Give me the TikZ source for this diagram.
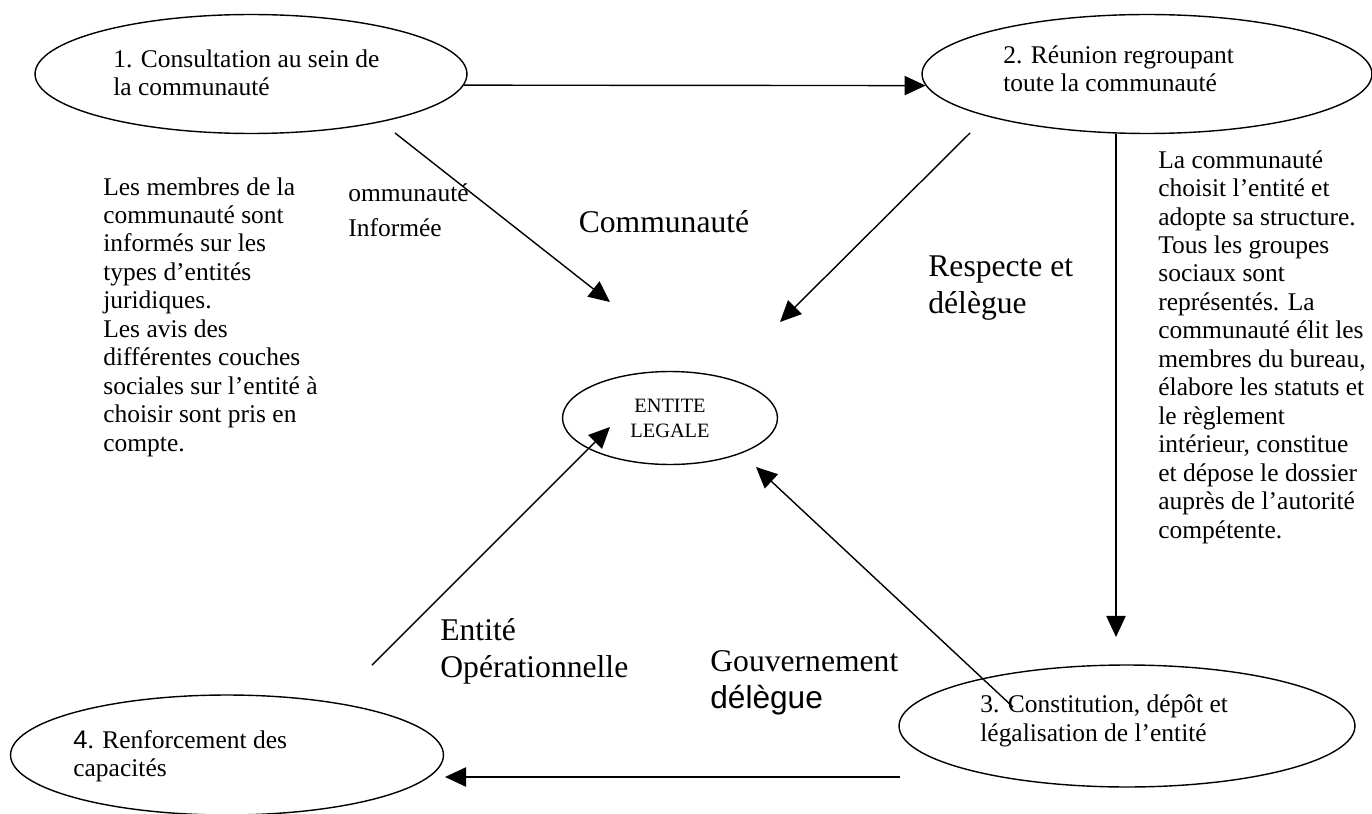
\documentclass[tikz,border=0pt]{standalone}
\usepackage{fontspec}
\setmainfont{Liberation Serif}
\newfontfamily\arial{Liberation Sans}
\usetikzlibrary{shapes.geometric,arrows.meta}

\newcommand{\corps}{\fontsize{14.5}{16.2}\selectfont}
\newcommand{\grand}{\fontsize{18}{21}\selectfont}

\begin{document}
\begin{tikzpicture}[x=0.02cm,y=-0.02cm,
  bulle/.style={draw,ellipse,line width=0.8pt,inner sep=0pt},
  texte/.style={anchor=west,align=left,inner sep=0pt,font=\corps},
  etiq/.style={anchor=west,align=left,inner sep=0pt,font=\grand},
  fleche/.style={line width=0.8pt,-{Triangle[length=12pt,width=11pt]}}]
\useasboundingbox (0,0) rectangle (1372,814);
% les quatre etapes et l'entite
\node[bulle,minimum width=8.64cm,minimum height=2.38cm] (etape1) at (251,74) {};
\node[bulle,minimum width=9.0cm,minimum height=2.38cm] (etape2) at (1147,74) {};
\node[bulle,minimum width=9.12cm,minimum height=2.44cm] (etape3) at (1127,726) {};
\node[bulle,minimum width=8.66cm,minimum height=2.4cm] (etape4) at (227,755) {};
\node[bulle,minimum width=4.3cm,minimum height=1.86cm,align=center,
      font=\fontsize{11.6}{14.2}\selectfont] (entite) at (670,418) {ENTITE\\LEGALE};
\node[texte] (t1) at (113,73) {1. Consultation au sein de\\la communauté};
\node[texte] (t2) at (1003,69) {2. Réunion regroupant\\toute la communauté};
\node[texte] (t3) at (980,721) {3. Constitution, dépôt et\\légalisation de l’entité};
\node[texte] (t4) at (73,756) {{\arial 4}. Renforcement des\\capacités};
% textes explicatifs
\node[texte] (gauche) at (103,317) {Les membres de la\\communauté sont\\informés sur les\\types d’entités\\juridiques.\\Les avis des\\différentes couches\\sociales sur l’entité à\\choisir sont pris en\\compte.};
\node[texte] (droite) at (1158,347) {La communauté\\choisit l’entité et\\adopte sa structure.\\Tous les groupes\\sociaux sont\\représentés. La\\communauté élit les\\membres du bureau,\\élabore les statuts et\\le règlement\\intérieur, constitue\\et dépose le dossier\\auprès de l’autorité\\compétente.};
\node[texte] (informee) at (348,210) {ommunauté\\[3.7pt]Informée};
\node[etiq,anchor=center] (commu) at (664,222) {Communauté};
\node[etiq] (respecte) at (928,288) {Respecte et\\délègue};
\node[etiq] (operat) at (440,651) {Entité\\Opérationnelle};
\node[etiq] (gouv) at (710,683) {Gouvernement\\{\arial délègue}};
% fleches
\coordinate (d1) at (395,133); \coordinate (f1) at (610,302);
\coordinate (d2) at (970,133); \coordinate (f2) at (780,322);
\coordinate (f3) at (1116,637);
\coordinate (d4) at (900,777); \coordinate (f4) at (445,777);
\coordinate (d5) at (1013,707); \coordinate (f5) at (756,467);
\coordinate (d6) at (372,665); \coordinate (f6) at (610,427);
\draw[fleche] (etape1.-3) -- (etape2.183);
\draw[fleche] (d1) -- (f1);
\draw[fleche] (d2) -- (f2);
\draw[fleche] (etape2.south -| f3) -- (f3);
\draw[fleche] (d4) -- (f4);
\draw[fleche] (d5) -- (f5);
\draw[fleche] (d6) -- (f6);
\end{tikzpicture}
\end{document}
